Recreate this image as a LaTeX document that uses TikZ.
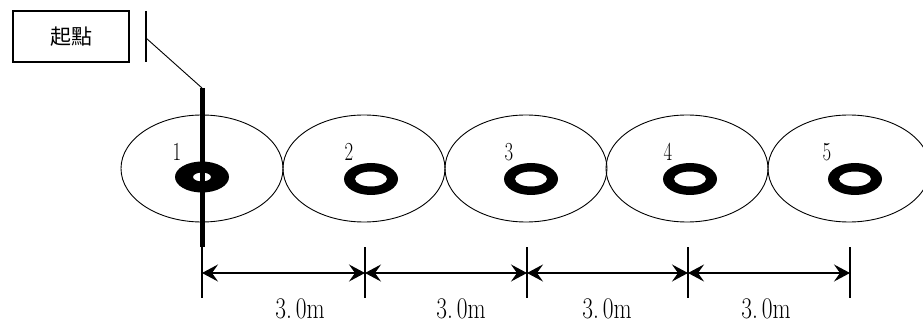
\documentclass[tikz,border=0pt]{standalone}
\usepackage{fontspec}
\newfontfamily\cjk{Noto Sans CJK TC}
\usetikzlibrary{arrows.meta,shapes.geometric}
\begin{document}
\begin{tikzpicture}[x=1pt,y=-1pt,
  field/.style={draw, ellipse, line width=0.9pt, minimum width=162pt, minimum height=107pt, inner sep=0pt},
  numlbl/.style={font=\fontsize{26}{26}\selectfont, xscale=0.72, inner sep=0pt},
  dimlbl/.style={font=\fontsize{30}{30}\selectfont, xscale=0.78, inner sep=0pt},
  tick/.style={line width=1.1pt},
  dim/.style={line width=1.1pt, {Stealth[length=16pt,width=17pt,inset=6pt]}-{Stealth[length=16pt,width=17pt,inset=6pt]}},
  thin/.style={line width=0.9pt}
]
\useasboundingbox (0,0) rectangle (923,323);
\begin{scope}
\clip (0,0) rectangle (923,323);
% label box
\node[draw, line width=1.2pt, minimum width=116pt, minimum height=51pt, inner sep=0pt,
      font=\cjk\fontsize{21}{21}\selectfont] (start) at (71,36.5) {起點};
% leader
\coordinate (lt) at (146,11);
\coordinate (lb) at (146,62);
\coordinate (lm) at (146,38);
\coordinate (top) at (202,88);
\draw[line width=1.6pt] (lt) -- (lb);
\draw[thin] (lm) -- (top);
% fields
\foreach \i/\x in {1/202,2/364,3/526,4/687,5/849}{
  \node[field] (f\i) at (\x,168.5) {};
}
% rings
\fill[even odd rule] (202,177) ellipse (27 and 15.5) (202,177) ellipse (9 and 4.5);
\foreach \x in {371,531,690,855}{
  \fill[even odd rule] (\x,179) ellipse (27 and 16) (\x,179) ellipse (16 and 7.5);
}
% numbers
\node[numlbl] (n1) at (177,152) {1};
\node[numlbl] (n2) at (349,152) {2};
\node[numlbl] (n3) at (509,152) {3};
\node[numlbl] (n4) at (668,152) {4};
\node[numlbl] (n5) at (827,152) {5};
% start line
\coordinate (tb) at (202,247);
\draw[line width=5pt] (top) -- (tb);
% ticks
\foreach \i/\x in {1/202,2/365,3/527,4/688,5/850}{
  \coordinate (t\i) at (\x,273);
  \coordinate (tt\i) at (\x,247);
  \coordinate (tb\i) at (\x,298);
  \draw[tick] (tt\i) -- (tb\i);
}
\draw[dim] (t1) -- (t2);
\draw[dim] (t2) -- (t3);
\draw[dim] (t3) -- (t4);
\draw[dim] (t4) -- (t5);
% labels
\node[dimlbl] (d1) at (300,309) {3.\,0m};
\node[dimlbl] (d2) at (461,309) {3.\,0m};
\node[dimlbl] (d3) at (607,309) {3.\,0m};
\node[dimlbl] (d4) at (766,309) {3.\,0m};
\end{scope}
\end{tikzpicture}
\end{document}
